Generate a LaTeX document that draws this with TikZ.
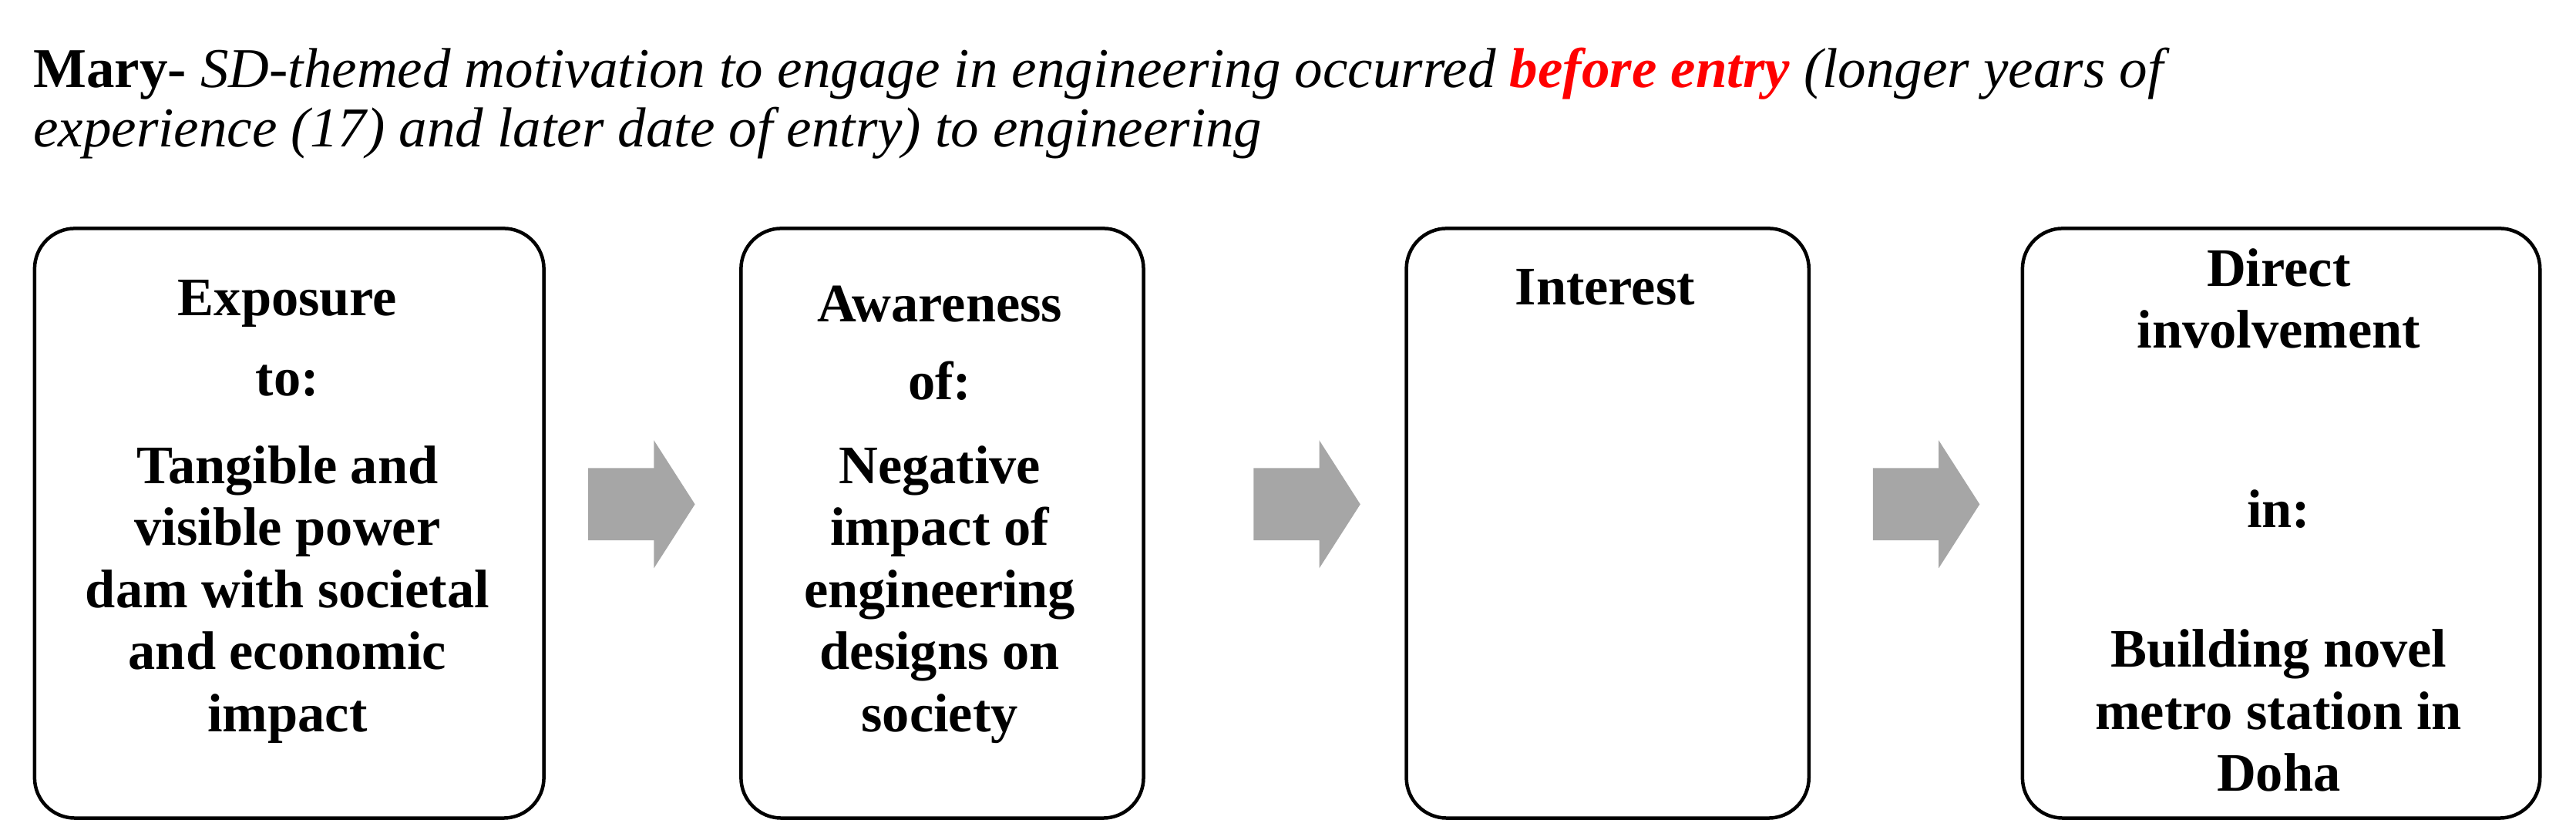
\documentclass[tikz,border=0pt]{standalone}
\usepackage{fontspec}
\setmainfont{Liberation Serif}
\begin{document}
\begin{tikzpicture}[x=0.02cm,y=-0.02cm,
  box/.style={draw,line width=1.2pt,rounded corners=14pt},
  t/.style={font=\fontsize{18.8}{21.5}\selectfont\bfseries,align=center,anchor=center,inner sep=0},
  arr/.style={fill=black!35,draw=none}]
\useasboundingbox (0,0) rectangle (1568,511);
\node[anchor=west,inner sep=0,font=\fontsize{19.5}{22}\selectfont] (title1) at (20,45) {\textbf{Mary-} \textit{SD-themed motivation to engage in engineering occurred \textcolor{red}{\textbf{before entry}} (longer years of}};
\node[anchor=west,inner sep=0,font=\fontsize{19.5}{22}\selectfont\itshape] (title2) at (20,81) {experience (17) and later date of entry) to engineering};
\node[box,minimum width=310*0.02cm,minimum height=359*0.02cm,anchor=north west] (b1) at (20,138) {};
\node[box,minimum width=245*0.02cm,minimum height=359*0.02cm,anchor=north west] (b2) at (450,138) {};
\node[box,minimum width=245*0.02cm,minimum height=359*0.02cm,anchor=north west] (b3) at (855,138) {};
\node[box,minimum width=315*0.02cm,minimum height=359*0.02cm,anchor=north west] (b4) at (1230,138) {};
\node[t] (e1) at (175,185) {Exposure};
\node[t] (e2) at (175,232) {to:};
\node[t,anchor=north] (e3) at (175,271) {Tangible and\\visible power\\dam with societal\\and economic\\impact};
\node[t] (a1) at (572,185) {Awareness};
\node[t] (a2) at (572,232) {of:};
\node[t,anchor=north] (a3) at (572,271) {Negative\\impact of\\engineering\\designs on\\society};
\node[t] (i1) at (977,175) {Interest};
\node[t,anchor=north] (d1) at (1387,151) {Direct\\involvement};
\node[t] (d2) at (1387,310) {in:};
\node[t,anchor=north] (d3) at (1387,383) {Building novel\\metro station in\\Doha};
\foreach \x in {358,763,1140}{
  \fill[arr] (\x,285) -- (\x+40,285) -- (\x+40,268) -- (\x+65,307) -- (\x+40,346) -- (\x+40,329) -- (\x,329) -- cycle;}
\end{tikzpicture}
\end{document}
